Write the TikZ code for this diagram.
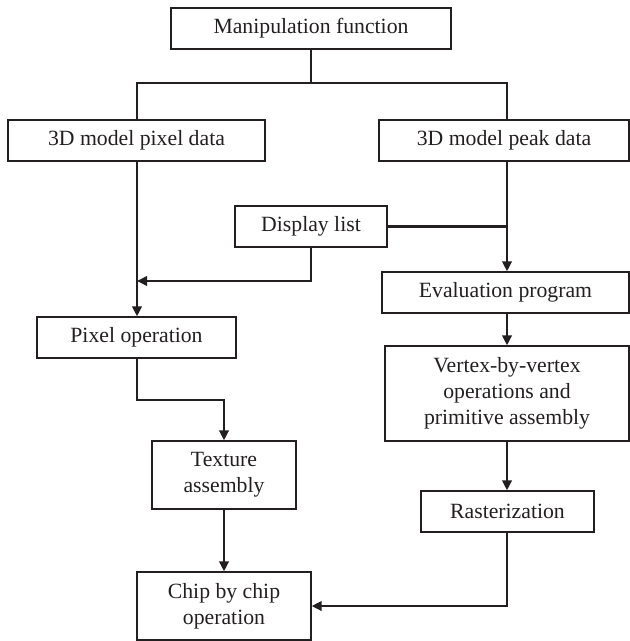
\documentclass[tikz,border=0pt]{standalone}
\usepackage{fontspec}
\setmainfont{Liberation Serif}
\usetikzlibrary{arrows.meta}
\definecolor{ink}{HTML}{231F20}
\begin{document}
\begin{tikzpicture}[x=0.75pt,y=-0.75pt,
  box/.style={draw=ink,line width=0.9pt,inner sep=0pt,align=center,text=ink,
    font=\fontsize{16.3}{19.5}\selectfont},
  conn/.style={draw=ink,line width=2pt},
  arr/.style={conn,-{Triangle[length=7.5pt,width=7pt]}}]
\useasboundingbox (0,0) rectangle (630,641);
% nodes
\node[box,minimum width=280*0.75pt,minimum height=41*0.75pt] (manip) at (311,28.5) {Manipulation function};
\node[box,minimum width=257*0.75pt,minimum height=41*0.75pt] (pixdata) at (136.5,140.5) {3D model pixel data};
\node[box,minimum width=250*0.75pt,minimum height=41*0.75pt] (peak) at (504,140.5) {3D model peak data};
\node[box,minimum width=152*0.75pt,minimum height=41*0.75pt] (disp) at (311,226.5) {Display list};
\node[box,minimum width=247*0.75pt,minimum height=41*0.75pt] (eval) at (505.5,292.5) {Evaluation program};
\node[box,minimum width=199*0.75pt,minimum height=41*0.75pt] (pixop) at (136.5,337.5) {Pixel operation};
\node[box,minimum width=244*0.75pt,minimum height=95*0.75pt] (vertex) at (507,393.5) {Vertex-by-vertex\\operations and\\primitive assembly};
\node[box,minimum width=144*0.75pt,minimum height=68*0.75pt] (texture) at (224,475) {Texture\\assembly};
\node[box,minimum width=173*0.75pt,minimum height=41*0.75pt] (raster) at (507.5,511.5) {Rasterization};
\node[box,minimum width=174*0.75pt,minimum height=68*0.75pt] (chip) at (224,606) {Chip by chip\\operation};
% branch points
\coordinate (T) at (311,83);
\coordinate (L) at (137,83);
\coordinate (R) at (507,83);
\coordinate (DL) at (137,281);
\coordinate (PT) at (137,400);
\coordinate (TT) at (224,400);
\coordinate (RC) at (507,606);
% connectors
\draw[conn] (manip.south) -- (T);
\draw[conn] (L |- pixdata.north) -- (L) -- (R) -- (R |- peak.north);
\draw[arr] (R |- peak.south) -- (R |- eval.north);
\draw[conn] (disp.east) -- (R |- disp.east);
\draw[arr] (disp.south) |- (DL);
\draw[arr] (L |- pixdata.south) -- (L |- pixop.north);
\draw[arr] (PT |- pixop.south) -- (PT) -- (TT) -- (texture.north);
\draw[arr] (R |- eval.south) -- (R |- vertex.north);
\draw[arr] (R |- vertex.south) -- (R |- raster.north);
\draw[arr] (texture.south) -- (chip.north);
\draw[arr] (R |- raster.south) -- (RC) -- (chip.east);
\end{tikzpicture}
\end{document}
